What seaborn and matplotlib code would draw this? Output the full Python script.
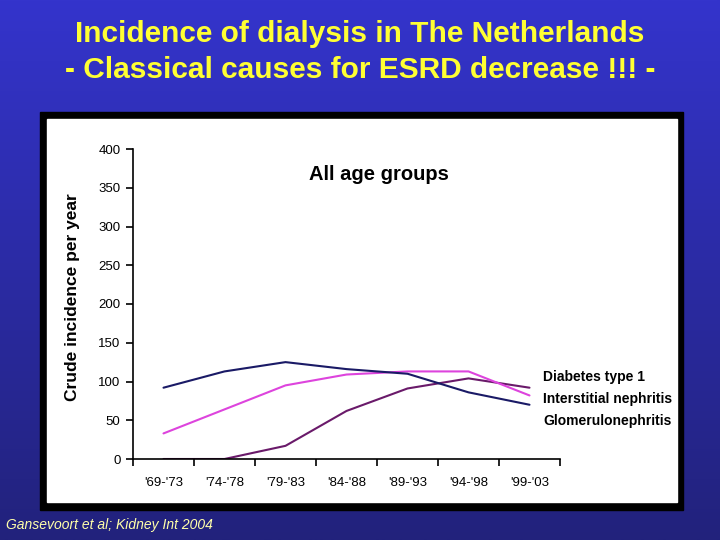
import matplotlib
matplotlib.use("Agg")
import matplotlib.pyplot as plt
import numpy as np
import pandas as pd
import seaborn as sns
from matplotlib.patches import Rectangle

# %%
periods = ["'69-'73", "'74-'78", "'79-'83", "'84-'88", "'89-'93", "'94-'98", "'99-'03"]
diabetes_1 = [0, 0, 17, 62, 91, 104, 92]
interstitial = [33, 64, 95, 109, 113, 113, 82]
glomerulo = [92, 113, 125, 116, 110, 86, 70]
series_names = ["Diabetes type 1", "Interstitial nephritis", "Glomerulonephritis"]
series_colors = ["#6a1a6a", "#dd44dd", "#1a1a66"]
yticks = [0, 50, 100, 150, 200, 250, 300, 350, 400]

df = pd.DataFrame({
    "period": periods * 3,
    "value": diabetes_1 + interstitial + glomerulo,
    "cause": sum([[n] * len(periods) for n in series_names], []),
})

# %%
sns.set_style("white")
plt.rcParams["font.family"] = ["Liberation Sans", "DejaVu Sans"]
plt.rcParams["text.color"] = "black"
plt.rcParams["axes.labelcolor"] = "black"
plt.rcParams["xtick.color"] = "black"
plt.rcParams["ytick.color"] = "black"

fig = plt.figure(figsize=(7.2, 5.4), dpi=100)

# blue slide background with a soft vertical gradient
bg = fig.add_axes([0, 0, 1, 1], zorder=-10)
grad = np.linspace(0, 1, 256).reshape(-1, 1)
cmap = matplotlib.colors.LinearSegmentedColormap.from_list("bg", ["#3434cc", "#22227c"])
bg.imshow(grad, aspect="auto", cmap=cmap, extent=[0, 1, 0, 1], origin="upper")
bg.set_axis_off()

# black framed white chart panel
W, H = 720, 540
fig.patches.append(Rectangle((40 / W, 1 - 510 / H), 643 / W, 398 / H,
                             transform=fig.transFigure, color="black", zorder=-5))
fig.patches.append(Rectangle((47 / W, 1 - 502 / H), 630 / W, 383 / H,
                             transform=fig.transFigure, color="white", zorder=-4))

ax = fig.add_axes([133 / W, 1 - 459 / H, 427 / W, 310 / H])
ax.patch.set_alpha(0)
sns.lineplot(data=df, x="period", y="value", hue="cause", palette=series_colors,
             linewidth=1.5, legend=False, ax=ax, sort=False)

ax.set_xlim(-0.5, len(periods) - 0.5)
ax.set_ylim(0, 400)
ax.set_yticks(yticks)
ax.set_xticks(range(len(periods)))
ax.set_xticklabels(periods)
ax.set_xticks(np.arange(-0.5, len(periods), 1), minor=True)
ax.tick_params(axis="x", which="major", bottom=True, length=0, pad=13, labelsize=9.5)
ax.tick_params(axis="x", which="minor", bottom=True, length=5, width=1.2, direction="out")
ax.tick_params(axis="y", left=True, length=5, width=1.2, direction="out", labelsize=9.5, pad=4)
for s in ["top", "right"]:
    ax.spines[s].set_visible(False)
for s in ["left", "bottom"]:
    ax.spines[s].set_color("black")
    ax.spines[s].set_linewidth(1.2)
ax.set_xlabel("")
ax.set_ylabel("Crude incidence per year", fontsize=12.5, fontweight="bold")
ax.yaxis.set_label_coords(-0.124, 0.523)

ax.text(0.576, 0.919, "All age groups", transform=ax.transAxes, ha="center", va="center",
        fontsize=14.5, fontweight="bold")
for name, yv in zip(series_names, [106, 77.5, 49]):
    ax.text(6.22, yv, name, ha="left", va="center", fontsize=10, fontweight="bold", clip_on=False)

fig.text(0.5, 1 - 34 / H, "Incidence of dialysis in The Netherlands",
         ha="center", va="center", fontsize=21.5, fontweight="bold", color="#ffff33")
fig.text(0.5, 1 - 70 / H, "- Classical causes for ESRD decrease !!! -",
         ha="center", va="center", fontsize=21.5, fontweight="bold", color="#ffff33")
fig.text(6 / W, 1 - 525 / H, "Gansevoort et al; Kidney Int 2004",
         ha="left", va="center", fontsize=10, style="italic", color="#ffffaa")

fig.savefig("out.png", dpi=100)
